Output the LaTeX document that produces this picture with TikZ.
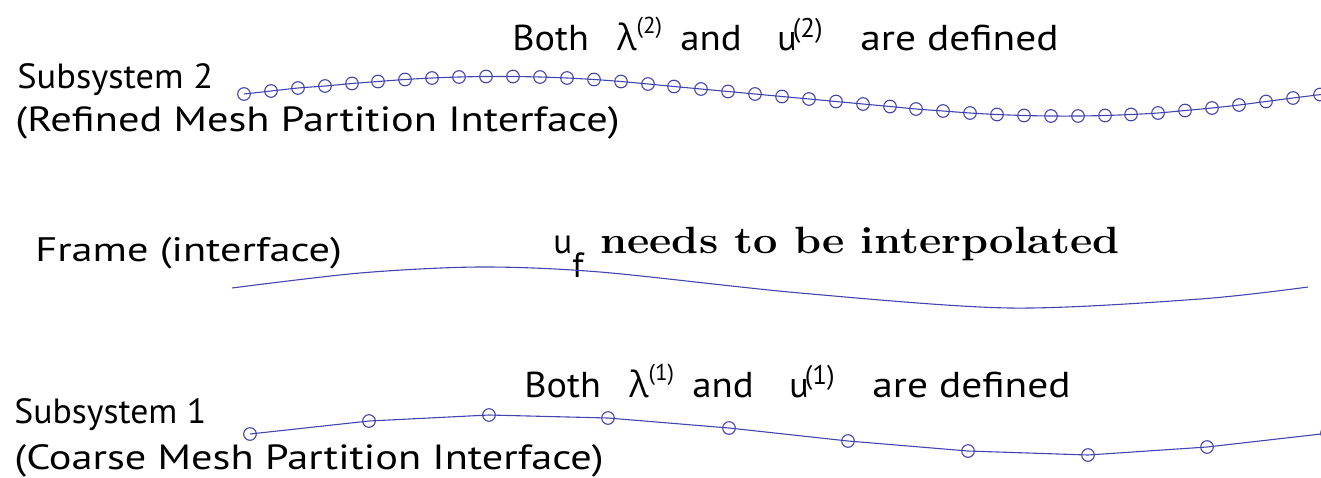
\documentclass[tikz,border=0pt]{standalone}
\usepackage{fontspec}
\usepackage{graphicx}
\setmainfont{PT Sans}
\newfontfamily\grk{Open Sans}
\newfontfamily\lmr{Latin Modern Roman}
\definecolor{meshblue}{RGB}{68,68,176}
\newcommand{\hw}[3]{\makebox[#1][l]{\scalebox{#2}[1]{#3}}}
\newcommand{\sps}[2]{\raisebox{#1}{\fontsize{11.5}{13}\selectfont(#2)}}
\newcommand{\spu}[1]{\raisebox{6.5pt}{\fontsize{13.5}{15}\selectfont(#1)}}
\begin{document}
\begin{tikzpicture}[x=0.5pt,y=-0.5pt,
  lbl/.style={anchor=base west,inner sep=0pt,font=\fontsize{17.5}{20}\selectfont},
  curve/.style={draw=meshblue,line width=0.55pt},
  pt/.style={draw=meshblue,line width=0.55pt,fill=none}]
\useasboundingbox (0,0) rectangle (1321,477);
% labels
\node[lbl] (s2) at (17,88) {\scalebox{1.04}[1]{Subsystem 2}};
\node[lbl] (s2b) at (15,131) {\scalebox{1.21}[1]{(Refined Mesh Partition Interface)}};
\node[lbl,font=\fontsize{18}{20}\selectfont] (t2) at (512,50) {\hw{52.5pt}{1.06}{Both}\hw{31.5pt}{1}{{\grk λ}\sps{8.5pt}{2}}\hw{48.5pt}{1.08}{and}\hw{41.5pt}{1}{u\kern-2pt\spu{2}}\scalebox{1.15}[1]{are defined}};
\node[lbl,font=\fontsize{17}{20}\selectfont] (fr) at (35,261) {\scalebox{1.245}[1]{Frame (interface)}};
\node[lbl,font=\fontsize{17.5}{20}\selectfont] (tf) at (553,253) {\hw{23.5pt}{1}{u\raisebox{-12pt}{f}}\scalebox{1.14}[1]{\fontsize{19}{22}\lmr\bfseries needs to be interpolated}};
\node[lbl] (s1) at (14,423) {\scalebox{1.02}[1]{Subsystem 1}};
\node[lbl] (s1b) at (14,469) {\scalebox{1.21}[1]{(Coarse Mesh Partition Interface)}};
\node[lbl,font=\fontsize{18}{20}\selectfont] (t1) at (524,397) {\hw{52.5pt}{1.06}{Both}\hw{31.5pt}{1}{{\grk λ}\sps{8.5pt}{1}}\hw{48.5pt}{1.08}{and}\hw{41.5pt}{1}{u\kern-2pt\spu{1}}\scalebox{1.15}[1]{are defined}};
% top refined curve
\draw[curve] plot[smooth] coordinates {(244,94) (271,91) (298,88) (325,86) (352,83.5) (378,81.5) (405,79.5) (432,78) (459,77) (486,76.5) (513,76.5) (540,77) (567,78) (594,79.5) (621,81.5) (648,84) (674,86.5) (701,89) (728,91.5) (755,94) (782,96.5) (809,99) (836,101.5) (863,104) (890,106.5) (916,109) (943,111) (970,113) (997,114.5) (1024,115.5) (1051,116) (1078,116) (1105,115.5) (1131,114.5) (1158,113) (1185,110.5) (1212,108) (1239,105) (1266,101.5) (1293,98) (1321,94.5)};
\foreach \x/\y in {244/94,271/91,298/88,325/86,352/83.5,378/81.5,405/79.5,432/78,459/77,486/76.5,513/76.5,540/77,567/78,594/79.5,621/81.5,648/84,674/86.5,701/89,728/91.5,755/94,782/96.5,809/99,836/101.5,863/104,890/106.5,916/109,943/111,970/113,997/114.5,1024/115.5,1051/116,1078/116,1105/115.5,1131/114.5,1158/113,1185/110.5,1212/108,1239/105,1266/101.5,1293/98,1320/94.5}
  \draw[pt] (\x,\y) circle (6.3);
% frame curve
\draw[curve] plot[smooth] coordinates {(232,288) (360,273) (480,267) (600,272) (800,293) (1010,308) (1200,299) (1308,287)};
% bottom coarse curve
\draw[curve] (250,434) -- (369,421) -- (489,415) -- (608,418) -- (729,428) -- (848,441) -- (968,451) -- (1088,455) -- (1207,447) -- (1321,434);
\foreach \x/\y in {250/434,369/421,489/415,608/418,729/428,848/441,968/451,1088/455,1207/447,1327/433}
  \draw[pt] (\x,\y) circle (6.3);
\end{tikzpicture}
\end{document}
